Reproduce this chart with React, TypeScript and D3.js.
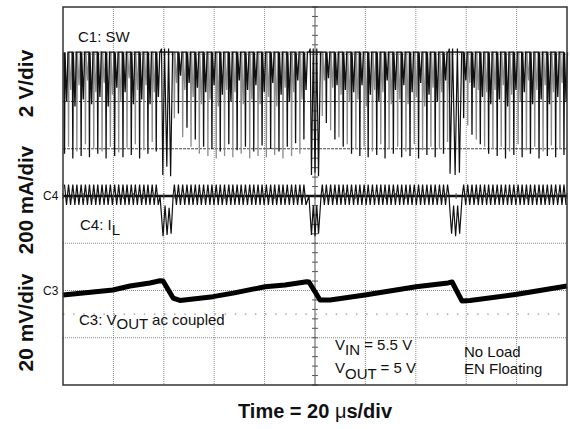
import React from "react";
import * as d3 from "d3";

// ---- scope settings ----
const timeDomain: [number, number] = [0, 200]; // µs (20 µs/div, 10 div)
const divDomain: [number, number] = [0, 8]; // vertical divisions

// ---- C1: SW (V), 2 V/div ----
const swHigh = 5.2;
const swPulseTimes = [
  0.6, 2.2, 3.9, 5.5, 7.2, 8.9, 10.5, 12.2, 13.8, 15.5, 17.1, 18.8, 20.5, 22.1, 23.8, 25.4, 27.1, 28.7, 30.4, 32.1, 33.7, 35.4, 37.0,
  44.2, 45.8, 47.5, 49.2, 50.8, 52.5, 54.1, 55.8, 57.5, 59.1, 60.8, 62.4, 64.1, 65.8, 67.4, 69.1, 70.7, 72.4, 74.1, 75.7, 77.4, 79.0, 80.7, 82.4, 84.0, 85.7, 87.3, 89.0, 90.7, 92.3, 94.0, 95.6,
  102.9, 104.5, 106.2, 107.9, 109.5, 111.2, 112.8, 114.5, 116.2, 117.8, 119.5, 121.1, 122.8, 124.5, 126.1, 127.8, 129.4, 131.1, 132.8, 134.4, 136.1, 137.7, 139.4, 141.1, 142.7, 144.4, 146.0, 147.7, 149.4, 151.0, 152.6,
  159.0, 160.6, 162.3, 164.0, 165.6, 167.3, 168.9, 170.6, 172.3, 173.9, 175.6, 177.2, 178.9, 180.6, 182.2, 183.9, 185.5, 187.2, 188.9, 190.5, 192.2, 193.8, 195.5, 197.2, 198.8,
];
const swPulseLows = [
  0.9, 1.2, 0.7, 1.0, 0.8, 1.3, 0.75, 1.1, 0.9, 1.0, 0.7, 1.2, 0.8, 0.95, 0.75, 1.15, 0.85, 1.3, 0.7, 1.05, 0.9, 1.4, 1.0,
  2.4, 2.6, 1.6, 2.0, 1.2, 1.5, 0.9, 1.2, 0.8, 1.1, 0.7, 1.0, 0.8, 1.3, 0.75, 1.05, 0.9, 1.2, 0.7, 1.0, 0.8, 1.25, 0.75, 1.1, 0.85, 1.0, 0.7, 1.2, 0.8, 1.35, 0.9, 1.5,
  2.5, 2.2, 1.9, 1.5, 1.6, 1.2, 1.3, 0.9, 1.1, 0.8, 1.2, 0.75, 1.0, 0.85, 1.3, 0.7, 1.1, 0.9, 1.2, 0.75, 1.0, 0.8, 1.3, 0.7, 1.05, 0.85, 1.2, 0.75, 1.1, 0.9, 1.4,
  2.4, 2.1, 1.7, 1.5, 1.3, 1.2, 0.9, 1.1, 0.8, 1.2, 0.7, 1.0, 0.85, 1.3, 0.75, 1.05, 0.9, 1.2, 0.7, 1.0, 0.8, 1.25, 0.75, 1.1, 0.85,
];
const swRingLows = [
  3.1, 3.6, 2.9, 3.8, 3.2, 4.0, 3.0, 3.5, 3.3, 3.9, 2.9, 3.4, 3.7, 3.1, 3.5, 4.1, 3.0, 3.6, 3.2, 3.8, 3.0, 3.5, 3.3,
  3.9, 4.2, 3.6, 3.9, 3.3, 3.7, 3.0, 3.5, 3.2, 3.8, 2.9, 3.4, 3.6, 3.1, 3.5, 4.0, 3.0, 3.6, 3.2, 3.8, 3.0, 3.5, 3.3, 3.9, 2.9, 3.4, 3.7, 3.1, 3.5, 4.0, 3.2, 3.6,
  4.0, 4.1, 3.7, 3.8, 3.4, 3.6, 3.1, 3.5, 3.2, 3.8, 2.9, 3.4, 3.6, 3.1, 3.5, 4.0, 3.0, 3.6, 3.2, 3.8, 3.0, 3.5, 3.3, 3.9, 2.9, 3.4, 3.7, 3.1, 3.5, 4.0, 3.3,
  4.0, 3.9, 3.7, 3.6, 3.3, 3.5, 3.0, 3.6, 3.2, 3.8, 2.9, 3.4, 3.6, 3.1, 3.5, 4.0, 3.0, 3.6, 3.2, 3.8, 3.0, 3.5, 3.3, 3.9, 3.1,
];
// burst events: [time µs, volts]
const swEvent1 = [[38.5, 5.2], [39.1, 5.35], [39.6, 0.0], [40.3, 5.35], [41.2, 0.35], [41.9, 5.35], [42.7, -0.05], [43.5, 5.2]];
const swEvent2 = [[97.6, 5.2], [98.1, 5.35], [98.6, 0.0], [99.3, 5.35], [100.0, 0.1], [100.7, 5.35], [101.4, -0.05], [102.2, 5.2]];
const swEvent3 = [[153.0, 5.2], [153.3, 5.35], [153.6, 0.05], [154.6, 5.35], [155.6, 0.0], [156.5, 5.35], [157.3, 0.1], [158.2, 5.2]];

// ---- C4: IL (mA), 200 mA/div ----
const ilPeak = 48;
const ilTrough = -38;
const ilEvent1 = [[38.5, 0], [39.7, -170], [40.5, -40], [41.3, -165], [42.1, -50], [42.9, -160], [43.7, 0]];
const ilEvent2 = [[97.6, 0], [98.6, -165], [99.3, -40], [100.0, -170], [100.7, -40], [101.4, -160], [102.4, 0]];
const ilEvent3 = [[153.2, 0], [154.2, -160], [155.0, -40], [155.8, -170], [156.6, -40], [157.4, -160], [158.4, 0]];

// ---- C3: VOUT ac coupled (mV), 20 mV/div ----
const voutTimes = [0, 19.8, 26.6, 34.5, 38.5, 39.7, 43.7, 46.4, 59.5, 67.5, 80.2, 88.1, 96.7, 97.6, 102.0, 106.0, 119.8, 140.1, 152.8, 154.4, 158.3, 161.5, 180.2, 200];
const voutValues = [-1.9, 0.2, 1.9, 3.2, 4.1, 4.0, -3.2, -4.2, -2.6, -1.1, 1.6, 2.3, 3.7, 3.6, -4.0, -4.0, -1.9, 1.6, 3.2, 3.6, -4.4, -4.2, -1.6, 1.9];

// channel reference positions (divisions from bottom) and scale per div
const c1Ref = 4.444, c1PerDiv = 2;
const c4Ref = 4, c4PerDiv = 200;
const c3Ref = 2, c3PerDiv = 20;

const FONT = "'Liberation Sans', Arial, Helvetica, sans-serif";

export default function App() {
  const L = 63, R = 567, T = 7, B = 385;
  const x = d3.scaleLinear().domain(timeDomain).range([L, R]);
  const y = d3.scaleLinear().domain(divDomain).range([B, T]);
  const ySW = (v: number) => y(c1Ref + v / c1PerDiv);
  const yIL = (v: number) => y(c4Ref + v / c4PerDiv);
  const yVO = (v: number) => y(c3Ref + v / c3PerDiv);

  // SW paths: two alternating traces
  const swTraces: number[][][] = [[], []];
  swPulseTimes.forEach((t, i) => {
    const tr = swTraces[i % 2];
    tr.push(
      [t - 0.2, swHigh], [t, swPulseLows[i]], [t + 0.2, swHigh],
      [t + 0.85, swRingLows[i]], [t + 1.4, swHigh]
    );
  });
  const swLine = d3.line<number[]>().x((d) => x(d[0])).y((d) => ySW(d[1]));
  const swPathA = swLine(swTraces[0]) || "";
  const swPathB = swLine(swTraces[1]) || "";
  const swEvents = [swEvent1, swEvent2, swEvent3].map((e) => swLine(e) || "");

  // IL zigzag
  const ilPts: number[][] = [];
  swPulseTimes.forEach((t) => {
    ilPts.push([t, ilPeak], [t + 0.8, ilTrough]);
  });
  [ilEvent1, ilEvent2, ilEvent3].forEach((e) => e.forEach((p) => ilPts.push(p)));
  ilPts.sort((a, b) => a[0] - b[0]);
  const ilLine = d3.line<number[]>().x((d) => x(d[0])).y((d) => yIL(d[1]));
  const ilPath = ilLine(ilPts) || "";

  const voPts = voutTimes.map((t, i) => [t, voutValues[i]]);
  const voPath = d3.line<number[]>().x((d) => x(d[0])).y((d) => yVO(d[1]))(voPts) || "";

  const vGrid = d3.range(1, 10).filter((k) => k !== 5);
  const hGrid = d3.range(1, 8).filter((k) => k !== 4);
  const darkH = [5, 6];
  const cx = x(100);
  const cy = y(4);
  const vTicks = d3.range(0, 40.01, 1).map((k) => k * 0.2);
  const hTicks = d3.range(0, 50.01, 1).map((k) => k * 4);

  return (
    <svg width={570} height={429} style={{ position: "absolute", left: 0, top: 0, background: "#fff" }} fontFamily={FONT}>
      <rect x={0} y={0} width={570} height={429} fill="#fff" />
      {/* graticule */}
      {vGrid.map((k) => (
        <line key={"v" + k} x1={x(k * 20)} x2={x(k * 20)} y1={T} y2={B} stroke="#8a8a8a" strokeWidth={1} strokeDasharray="1 1" />
      ))}
      {hGrid.map((k) => (
        <line key={"h" + k} x1={L} x2={R} y1={y(k)} y2={y(k)} stroke={darkH.includes(k) ? "#444" : "#8a8a8a"} strokeWidth={1} strokeDasharray={darkH.includes(k) ? "3 1" : "1 1"} />
      ))}
      <line x1={L} x2={R} y1={yVO(-10)} y2={yVO(-10)} stroke="#999" strokeWidth={1.2} strokeDasharray="1.5 8.6" />
      {/* center axes */}
      <line x1={cx} x2={cx} y1={T} y2={B} stroke="#555" strokeWidth={1} />
      {vTicks.map((d) => (
        <line key={"vt" + d} x1={cx - 3} x2={cx + 3} y1={y(d)} y2={y(d)} stroke="#555" strokeWidth={1} />
      ))}

      {/* traces */}
      <path d={swPathB} fill="none" stroke="#8c8c8c" strokeWidth={1.3} />
      <path d={swPathA} fill="none" stroke="#111" strokeWidth={1.3} />
      {swEvents.map((d, i) => (
        <path key={"se" + i} d={d} fill="none" stroke="#111" strokeWidth={1.2} />
      ))}
      <path d={ilPath} fill="none" stroke="#111" strokeWidth={1.2} />
      <line x1={L} x2={R} y1={cy} y2={cy} stroke="#111" strokeWidth={2.5} />
      {hTicks.map((d) => (
        <line key={"ht" + d} x1={x(d)} x2={x(d)} y1={cy - 3} y2={cy + 3} stroke="#555" strokeWidth={1} />
      ))}
      <path d={voPath} fill="none" stroke="#000" strokeWidth={5} strokeLinejoin="round" />

      {/* frame */}
      <rect x={L} y={T} width={R - L} height={B - T} fill="none" stroke="#333" strokeWidth={1.5} />

      {/* labels inside */}
      <text x={78} y={41.5} fontSize={15} fill="#111">C1: SW</text>
      <text x={80} y={230} fontSize={15} fill="#111">C4: I<tspan dy={5}>L</tspan></text>
      <text x={79} y={325} fontSize={15} fill="#111">C3: V<tspan dy={3.5}>OUT</tspan><tspan dy={-3.5}> ac coupled</tspan></text>
      <text x={335} y={350} fontSize={15} fill="#111">V<tspan dy={5}>IN</tspan><tspan dy={-5}> = 5.5 V</tspan></text>
      <text x={335} y={373} fontSize={15} fill="#111">V<tspan dy={6}>OUT</tspan><tspan dy={-6}> = 5 V</tspan></text>
      <text x={464} y={356.5} fontSize={15} fill="#111">No Load</text>
      <text x={464} y={374} fontSize={15} fill="#111">EN Floating</text>
      <text x={43} y={200} fontSize={12} fill="#111">C4</text>
      <text x={43} y={295} fontSize={12} fill="#111">C3</text>

      {/* axis labels */}
      <text transform="translate(33,83.5) rotate(-90)" textAnchor="middle" fontSize={21} fontWeight="bold" fill="#111">2 V/div</text>
      <text transform="translate(33,200) rotate(-90)" textAnchor="middle" fontSize={20.5} fontWeight="bold" fill="#111">200 mA/div</text>
      <text transform="translate(33,322.5) rotate(-90)" textAnchor="middle" fontSize={21} fontWeight="bold" fill="#111">20 mV/div</text>
      <text x={315} y={418} textAnchor="middle" fontSize={20} fontWeight="bold" fill="#111">
        Time = 20 <tspan fontWeight="normal">μ</tspan>s/div
      </text>
    </svg>
  );
}
